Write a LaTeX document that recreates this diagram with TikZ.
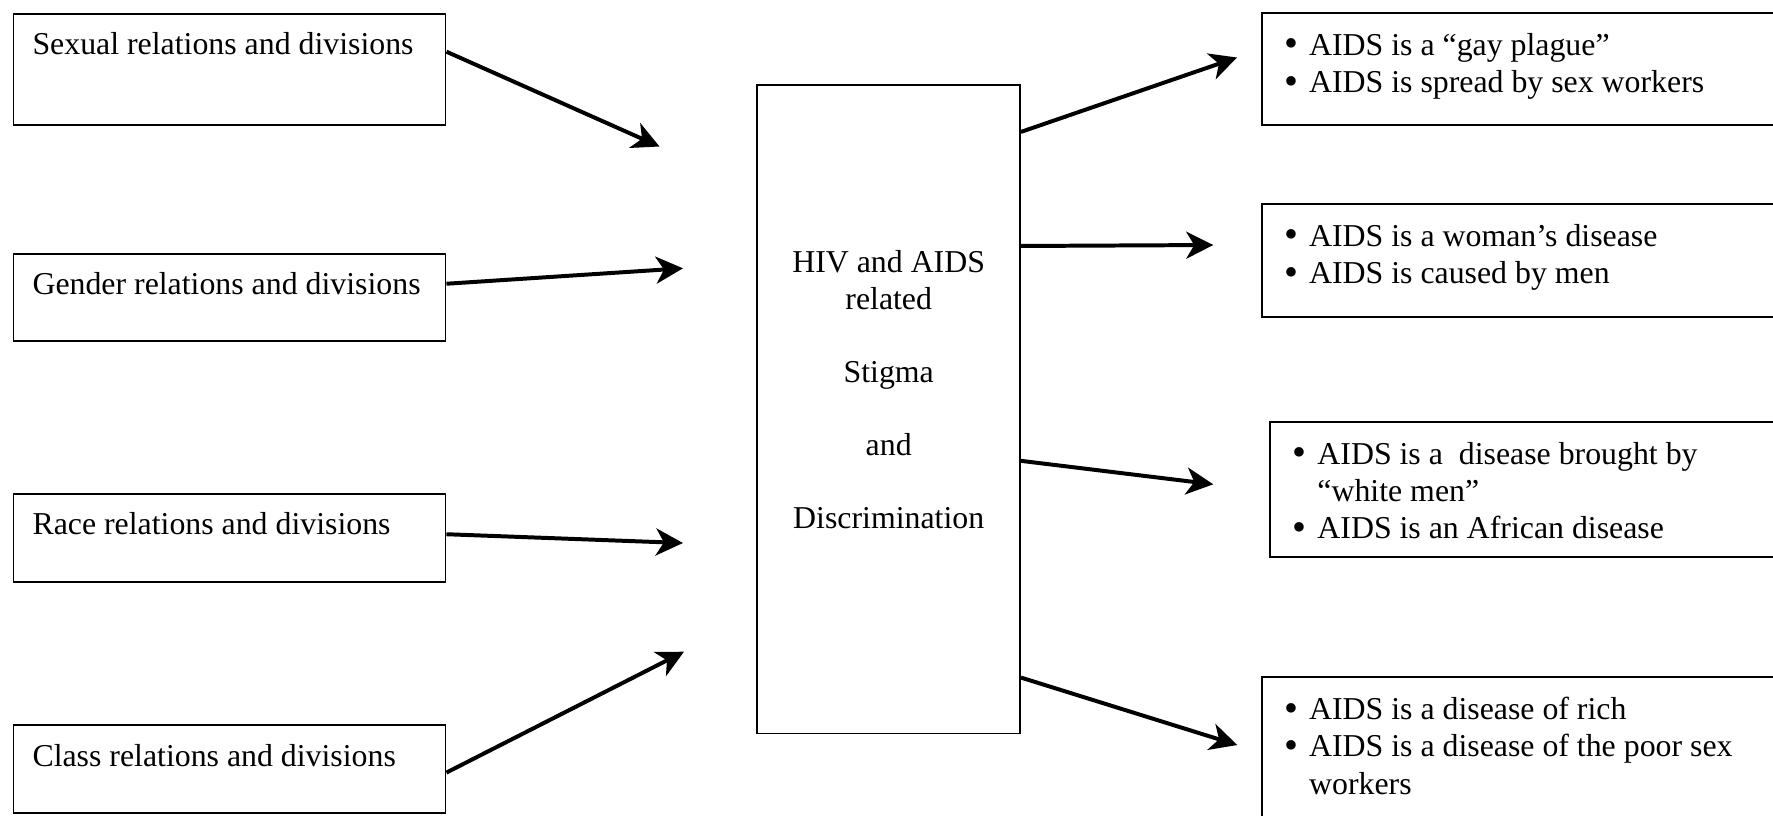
\documentclass[tikz,border=0pt]{standalone}
\usepackage{fontspec}
\setmainfont{Liberation Serif}
\usetikzlibrary{arrows.meta}

\newcommand{\bul}{\makebox[9.4pt][l]{\raisebox{-0.7pt}{\fontsize{15}{12}\selectfont\textbullet}}}
\newcommand{\bulskip}{\hspace*{9.4pt}}

\begin{document}
\begin{tikzpicture}[x=0.377pt, y=-0.377pt, >={Stealth[length=10.2pt, width=10.2pt, inset=3pt]},
    every node/.style={draw=black, line width=0.7pt, inner ysep=0pt, font=\fontsize{12}{13.8}\selectfont},
    cause/.style={anchor=north west, inner xsep=7.2pt, text width=148.5pt, align=flush left, text height=15.5pt},
    stigma/.style={anchor=north, inner xsep=0pt, text width=99pt, align=flush center, text height=70.6pt, text depth=173.8pt},
    belief/.style={anchor=north west, inner xsep=8.4pt, text width=182.6pt, align=flush left, text height=16pt, font=\fontsize{12}{14.1}\selectfont},
    link/.style={->, line width=1.5pt}]
    \useasboundingbox (0,0) rectangle (1773,815);
    \clip (0,0) rectangle (1773,815);

    \node[cause, text depth=26.6pt] (sexual) at (12.5,12.7) {Sexual relations and divisions};
    \node[cause, text depth=17.4pt] (gender) at (12.5,252.7) {Gender relations and divisions};
    \node[cause, text depth=17.7pt] (race) at (12.5,492.7) {Race relations and divisions};
    \node[cause, text depth=17.6pt] (class) at (12.5,724) {Class relations and divisions};

    \node[stigma] (stigma) at (888.7,84.3) {HIV and AIDS\\related\\[13.8pt]Stigma\\[13.8pt]and\\[13.8pt]Discrimination};

    \node[belief, text depth=26.4pt] (gay) at (1261,11.7) {\bul AIDS is a “gay plague”\\\bul AIDS is spread by sex workers};
    \node[belief, text depth=26.7pt] (woman) at (1261,202.7) {\bul AIDS is a woman’s disease\\\bul AIDS is caused by men};
    \node[belief, text depth=35pt] (white) at (1269.3,420.7) {\bul AIDS is a\ \ disease brought by\\\bulskip “white men”\\\bul AIDS is an African disease};
    \node[belief, text depth=42pt] (poor) at (1261,676) {\bul AIDS is a disease of rich\\\bul AIDS is a disease of the poor sex\\\bulskip workers};

    \coordinate (sexualtip) at (659.5,146.5);
    \coordinate (gendertip) at (683,268.3);
    \coordinate (racetip) at (683,543);
    \coordinate (classtip) at (684,651.7);
    \coordinate (gaytip) at (1237,57.5);
    \coordinate (womantip) at (1213.3,245);
    \coordinate (whitetip) at (1213.3,484.3);
    \coordinate (poortip) at (1237.3,745);

    \draw[link] ([yshift=6.7pt]sexual.east) -- (sexualtip);
    \draw[link] ([yshift=5.1pt]gender.east) -- (gendertip);
    \draw[link] ([yshift=1.3pt]race.east) -- (racetip);
    \draw[link] ([yshift=-1.4pt]class.east) -- (classtip);
    \draw[link] ([yshift=104.6pt]stigma.east) -- (gaytip);
    \draw[link] ([yshift=61.6pt]stigma.east) -- (womantip);
    \draw[link] ([yshift=-19.4pt]stigma.east) -- (whitetip);
    \draw[link] ([yshift=-101.1pt]stigma.east) -- (poortip);
\end{tikzpicture}
\end{document}
